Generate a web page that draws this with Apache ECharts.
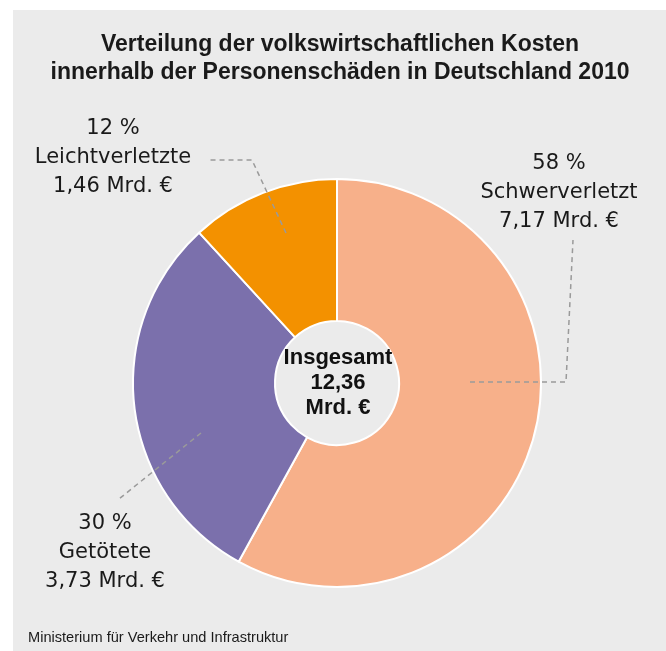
<!DOCTYPE html>
<html>
<head>
<meta charset="utf-8">
<script src="https://cdn.jsdelivr.net/npm/echarts@6/dist/echarts.min.js"></script>
<style>
  html, body { margin: 0; padding: 0; background: #fff; }
  #chart1 { width: 666px; height: 651px; }
</style>
</head>
<body>
<div id="chart1"></div>
<script>
// values in Mrd. €, share in %
var categories = ['Schwerverletzt', 'Getötete', 'Leichtverletzte'];
var costs = [7.17, 3.73, 1.46];
var shares = [58, 30, 12];
var colors = ['#f7b08a', '#7b70ac', '#f39100'];

// where the labels sit and how the dashed leader lines run
var labelPos = [[559, 193], [105, 553], [113, 158]];
var leaderLines = [
  [[470, 382], [566, 382], [573, 240]],
  [[201, 433], [160, 466], [119, 499]],
  [[286, 233], [252, 160], [207, 160]]
];

function fmt(v) {
  return v.toFixed(2).replace('.', ',');
}

var total = costs.reduce(function (a, b) { return a + b; }, 0);

var dom = document.getElementById('chart1');
var myChart = echarts.init(dom, null, { renderer: 'canvas' });

var pieCenter = [337, 383];
var pieRadius = [62, 204];

var option = {
  backgroundColor: '#ffffff',
  animation: false,
  graphic: [
    {
      type: 'rect',
      z: -10,
      silent: true,
      shape: { x: 13, y: 10, width: 660, height: 650 },
      style: { fill: '#ebebeb' }
    }
  ],
  title: [
    {
      text: 'Verteilung der volkswirtschaftlichen Kosten\ninnerhalb der Personenschäden in Deutschland 2010',
      left: 340,
      top: 31,
      textAlign: 'center',
      padding: 0,
      textStyle: {
        fontFamily: 'Liberation Sans',
        fontWeight: 'bold',
        fontSize: 23,
        lineHeight: 28,
        color: '#1a1a1a'
      }
    },
    {
      text: 'Insgesamt\n' + fmt(total) + '\nMrd. €',
      left: 338,
      top: 345,
      textAlign: 'center',
      padding: 0,
      textStyle: {
        fontFamily: 'Liberation Sans',
        fontWeight: 'bold',
        fontSize: 22,
        lineHeight: 25,
        color: '#111'
      }
    },
    {
      text: 'Ministerium für Verkehr und Infrastruktur',
      left: 28,
      top: 630,
      padding: 0,
      textStyle: {
        fontFamily: 'Liberation Sans',
        fontWeight: 'normal',
        fontSize: 14.6,
        color: '#1a1a1a'
      }
    }
  ],
  series: [
    {
      // the sectors
      type: 'pie',
      z: 2,
      center: pieCenter,
      radius: pieRadius,
      startAngle: 90,
      clockwise: true,
      silent: true,
      itemStyle: {
        borderColor: '#ffffff',
        borderWidth: 2
      },
      label: { show: false },
      labelLine: { show: false },
      data: categories.map(function (c, i) {
        return { name: c, value: costs[i], itemStyle: { color: colors[i] } };
      })
    },
    {
      // same slices again, invisible, only to carry labels and leader lines on top
      type: 'pie',
      z: 5,
      center: pieCenter,
      radius: pieRadius,
      startAngle: 90,
      clockwise: true,
      avoidLabelOverlap: false,
      silent: true,
      itemStyle: { color: 'rgba(0,0,0,0)', borderWidth: 0 },
      label: {
        show: true,
        position: 'outside',
        fontFamily: 'DejaVu Sans',
        fontSize: 21,
        lineHeight: 29,
        color: '#1a1a1a',
        formatter: function (p) {
          return shares[p.dataIndex] + ' %\n' + p.name + '\n' + fmt(p.value) + ' Mrd. €';
        }
      },
      labelLine: {
        show: true,
        lineStyle: { color: '#9a9a9a', width: 1.5, type: [5, 4] }
      },
      labelLayout: function (params) {
        var i = params.dataIndex;
        return {
          x: labelPos[i][0],
          y: labelPos[i][1],
          align: 'center',
          verticalAlign: 'middle',
          labelLinePoints: leaderLines[i]
        };
      },
      data: categories.map(function (c, i) {
        return { name: c, value: costs[i] };
      })
    }
  ]
};

myChart.setOption(option);
window.addEventListener('resize', myChart.resize);
</script>
</body>
</html>
